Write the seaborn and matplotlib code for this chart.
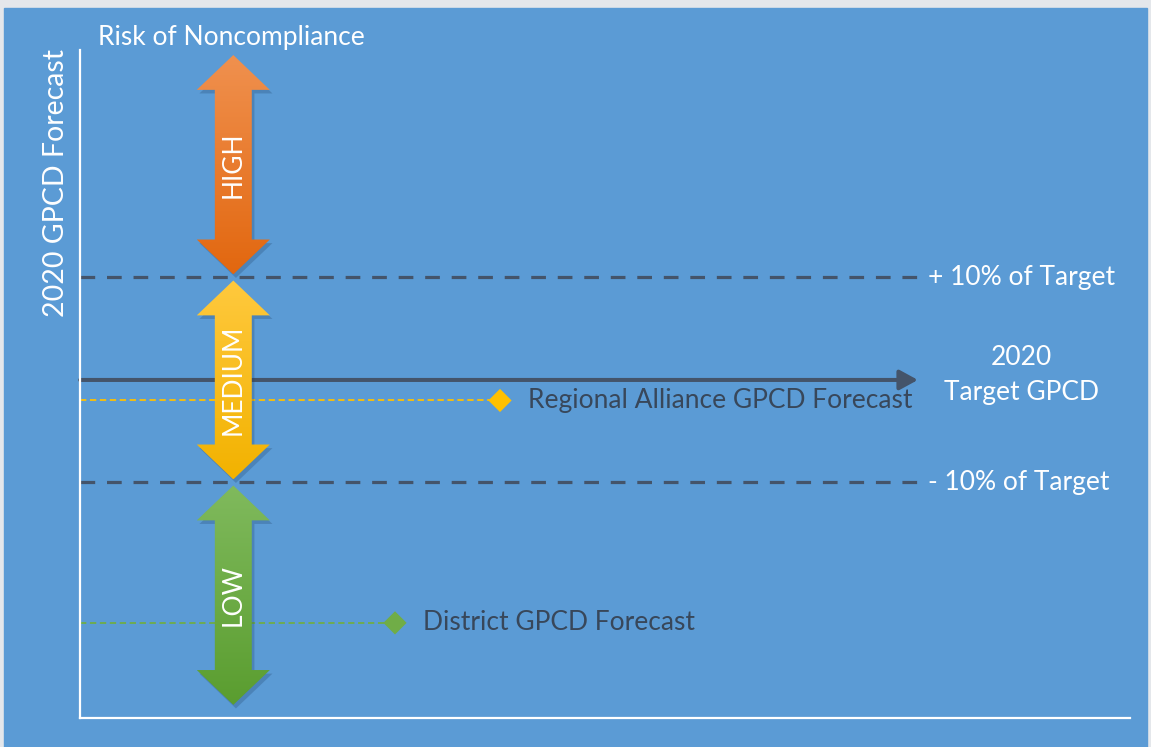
import numpy as np
import matplotlib.pyplot as plt
import seaborn as sns
from matplotlib.patches import Polygon, Rectangle
from matplotlib.colors import LinearSegmentedColormap

# Diagram values: y axis is GPCD expressed as % of the 2020 target
target_value = 100
threshold_values = [110, 90]
threshold_labels = ['+ 10% of Target', '- 10% of Target']

risk_levels = ['HIGH', 'MEDIUM', 'LOW']
risk_top = [131.7, 110, 90]
risk_bottom = [110, 90, 68.3]
risk_color_top = ['#F0914F', '#FFC93E', '#80BA5D']
risk_color_bottom = ['#E2670F', '#F2B200', '#5A9D2F']

forecast_labels = ['Regional Alliance GPCD Forecast', 'District GPCD Forecast']
forecast_values = [98, 76.3]
forecast_reach = [40, 30]
forecast_colors = ['#FFC000', '#70AD47']

bg_blue = '#5B9BD5'
dark = '#44546A'
label_dark = '#38475A'
fs = 19

sns.set_theme(style='white')
plt.rcParams['font.family'] = ['Lato', 'DejaVu Sans']

fig = plt.figure(figsize=(11.51, 7.47), dpi=100, facecolor='#E4E7EB')
fig.patches.append(Rectangle((4 / 1151, 0), 1143 / 1151, 739 / 747,
                             transform=fig.transFigure, color=bg_blue, zorder=-1))

ax = fig.add_axes([80 / 1151, 29 / 747, 1050 / 1151, 668 / 747])
ax.set_facecolor('none')
xmax, ymin, ymax = 100, 67.02, 132.19

# dashed +/- 10% lines
for value, label in zip(threshold_values, threshold_labels):
    sns.lineplot(x=[0, 80.5], y=[value, value], color=dark, lw=2.3,
                 linestyle=(0, (4.6, 3.7)), ax=ax, zorder=2)
    ax.text(80.8, value, label, color='white', fontsize=fs, ha='left',
            va='center', zorder=5)

# target arrow
ax.annotate('', xy=(79.8, target_value), xytext=(0, target_value),
            arrowprops=dict(arrowstyle='-|>,head_length=0.55,head_width=0.3',
                            mutation_scale=20, color=dark, lw=2.9,
                            shrinkA=0, shrinkB=0), zorder=2)
ax.text(89.7, target_value + 0.5, '2020\nTarget GPCD', color='white',
        fontsize=fs, ha='center', va='center', linespacing=1.5, zorder=5)

# forecast lines with diamond ends
for value, reach, label, col in zip(forecast_values, forecast_reach,
                                    forecast_labels, forecast_colors):
    sns.lineplot(x=[0, reach], y=[value, value], color=col, lw=1.3,
                 linestyle=(0, (3.5, 2)), ax=ax, zorder=2)
    sns.scatterplot(x=[reach], y=[value], marker='D', s=140, color=col,
                    edgecolor='none', ax=ax, zorder=3)
    ax.text(reach + 2.7, value, label, color=label_dark, fontsize=fs,
            ha='left', va='center', zorder=5)

# risk double arrows
cx, shaft_w, head_w, head_l, gap = 14.6, 1.76, 3.48, 3.4, 0.3
for name, top, bot, c1, c2 in zip(risk_levels, risk_top, risk_bottom,
                                  risk_color_top, risk_color_bottom):
    t, b = top - gap, bot + gap
    if name == 'HIGH':
        t = top
    if name == 'LOW':
        b = bot
    verts = [(cx, t), (cx + head_w, t - head_l), (cx + shaft_w, t - head_l),
             (cx + shaft_w, b + head_l), (cx + head_w, b + head_l), (cx, b),
             (cx - head_w, b + head_l), (cx - shaft_w, b + head_l),
             (cx - shaft_w, t - head_l), (cx - head_w, t - head_l)]
    shadow = Polygon([(x + 0.25, y - 0.35) for x, y in verts], closed=True,
                     facecolor='#1F3F63', alpha=0.25, edgecolor='none', zorder=3)
    ax.add_patch(shadow)
    poly = Polygon(verts, closed=True, facecolor='none', edgecolor='none', zorder=3)
    ax.add_patch(poly)
    cmap = LinearSegmentedColormap.from_list(name, [c2, c1])
    grad = np.linspace(0, 1, 256).reshape(-1, 1)
    im = ax.imshow(grad, extent=[cx - head_w, cx + head_w, b, t], origin='lower',
                   aspect='auto', cmap=cmap, zorder=3.5, interpolation='bilinear')
    im.set_clip_path(poly)
    ax.text(cx, (t + b) / 2, name, color='white', fontsize=fs, rotation=90,
            ha='center', va='center', zorder=5)

ax.text(1.7, 133.4, 'Risk of Noncompliance', color='white', fontsize=fs,
        ha='left', va='center', clip_on=False, zorder=5)
ax.text(-2.3, ymax + 0.1, '2020 GPCD Forecast', color='white', fontsize=20.5,
        rotation=90, ha='center', va='top', clip_on=False, zorder=5)

ax.set_xlim(0, xmax)
ax.set_ylim(ymin, ymax)
ax.set_xticks([])
ax.set_yticks([])
for side in ['top', 'right']:
    ax.spines[side].set_visible(False)
for side in ['left', 'bottom']:
    ax.spines[side].set_color('white')
    ax.spines[side].set_linewidth(1.6)
ax.set_xlabel('')
ax.set_ylabel('')

fig.savefig('out.png', dpi=100, facecolor=fig.get_facecolor())
